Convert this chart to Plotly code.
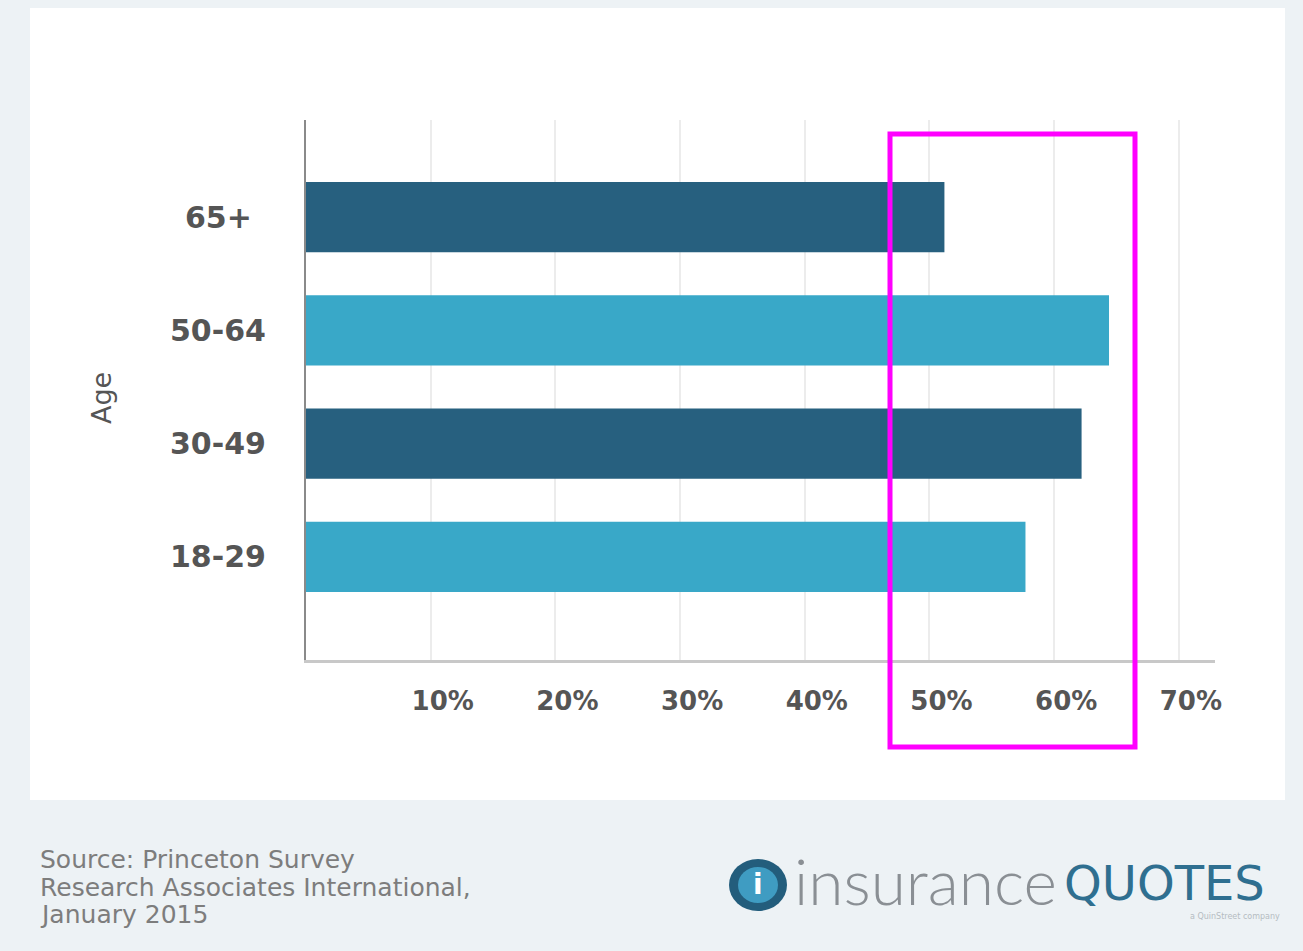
import plotly.graph_objects as go

# Survey results by age group
age_groups = ["18-29", "30-49", "50-64", "65+"]
share_pct = [57.7, 62.2, 64.4, 51.2]
bar_colors = ["#39a8c8", "#27607f", "#39a8c8", "#27607f"]

tick_vals = [10, 20, 30, 40, 50, 60, 70]
tick_text = ["10%", "20%", "30%", "40%", "50%", "60%", "70%"]

source_lines = ["Source: Princeton Survey",
                "Research Associates International,",
                "January 2015"]

W, H = 1303, 951
L, R, T, B = 306, 88, 120, 291
PW, PH = W - L - R, H - T - B


def px_x(p):
    return (p - L) / PW


def px_y(p):
    return (H - B - p) / PH


LABEL_GRAY = "#555555"
FONT = "DejaVu Sans"

fig = go.Figure(
    go.Bar(
        x=share_pct,
        y=age_groups,
        orientation="h",
        width=0.62,
        marker=dict(color=bar_colors, line=dict(width=0)),
        hoverinfo="x+y",
    )
)

shapes = [
    # white card behind the chart
    dict(type="rect", xref="paper", yref="paper", layer="below",
         x0=px_x(30), x1=px_x(1285), y0=px_y(800), y1=px_y(8),
         fillcolor="#ffffff", line=dict(width=0)),
    # highlight box around the 50-60% band
    dict(type="rect", xref="paper", yref="paper",
         x0=px_x(890), x1=px_x(1135), y0=px_y(747), y1=px_y(134),
         fillcolor="rgba(0,0,0,0)", line=dict(color="#ff00ff", width=5)),
    # logo badge
    dict(type="circle", xref="paper", yref="paper",
         x0=px_x(729), x1=px_x(787), y0=px_y(911), y1=px_y(859),
         fillcolor="#235d7c", line=dict(width=0)),
    dict(type="circle", xref="paper", yref="paper",
         x0=px_x(738), x1=px_x(778), y0=px_y(903), y1=px_y(867),
         fillcolor="#3f9cc2", line=dict(width=0)),
]

annotations = []
for grp in age_groups:
    annotations.append(dict(
        x=px_x(218), y=grp, xref="paper", yref="y", text=grp,
        showarrow=False, xanchor="center", yanchor="middle",
        font=dict(family=FONT, size=30, color=LABEL_GRAY, weight="bold"),
    ))

annotations.append(dict(
    x=px_x(101), y=px_y(398), xref="paper", yref="paper", text="Age",
    showarrow=False, textangle=-90, xanchor="center", yanchor="middle",
    font=dict(family=FONT, size=27, color=LABEL_GRAY),
))

for i, line in enumerate(source_lines):
    annotations.append(dict(
        x=px_x(38), y=px_y(860 + 27 * i), xref="paper", yref="paper",
        text=line, showarrow=False, xanchor="left", yanchor="middle",
        font=dict(family=FONT, size=25, color="#7d7d7d"),
    ))

# logo lettering
annotations += [
    dict(x=px_x(758), y=px_y(884), xref="paper", yref="paper", text="i",
         showarrow=False, xanchor="center", yanchor="middle",
         font=dict(family=FONT, size=28, color="#ffffff", weight="bold")),
    dict(x=px_x(792), y=px_y(880), xref="paper", yref="paper",
         text="insurance", showarrow=False, xanchor="left", yanchor="middle",
         font=dict(family="Lato", size=64, color="#8a8f94", weight=300)),
    dict(x=px_x(1062), y=px_y(883), xref="paper", yref="paper",
         text="QUOTES", showarrow=False, xanchor="left", yanchor="middle",
         font=dict(family=FONT, size=48, color="#2f6f90")),
    dict(x=px_x(1282), y=px_y(916), xref="paper", yref="paper",
         text="a QuinStreet company", showarrow=False, xanchor="right",
         yanchor="middle", font=dict(family=FONT, size=8, color="#b5bcc2")),
]

fig.update_layout(
    width=W, height=H,
    margin=dict(l=L, r=R, t=T, b=B, pad=0),
    paper_bgcolor="#edf2f5",
    plot_bgcolor="rgba(0,0,0,0)",
    showlegend=False,
    bargap=0.38,
    shapes=shapes,
    annotations=annotations,
    xaxis=dict(
        range=[0, 72.9], tickvals=tick_vals, ticktext=tick_text,
        showgrid=True, gridcolor="#ececec", gridwidth=2,
        zeroline=False, showline=True, linecolor="#c8c8c8", linewidth=3,
        ticks="", ticklabelshift=12, ticklabelstandoff=16,
        tickfont=dict(family=FONT, size=26, color=LABEL_GRAY, weight="bold"),
        fixedrange=True,
    ),
    yaxis=dict(
        range=[-0.909, 3.856], showticklabels=False, ticks="",
        showgrid=False, zeroline=False, showline=True,
        linecolor="#8a8a8a", linewidth=2, fixedrange=True,
    ),
)

fig.write_html("out.html", config={"displayModeBar": False})
